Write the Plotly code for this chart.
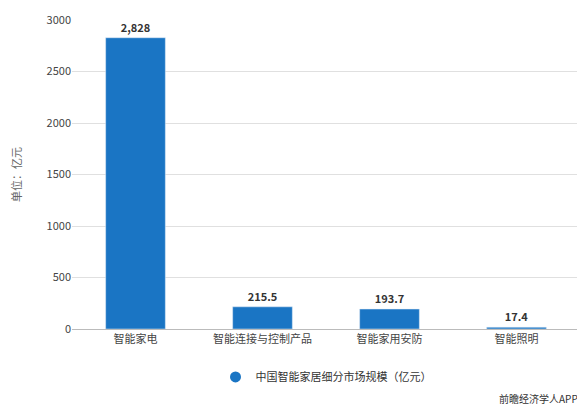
import plotly.graph_objects as go

categories = ["智能家电", "智能连接与控制产品", "智能家用安防", "智能照明"]
values = [2828, 215.5, 193.7, 17.4]
labels = ["<b>2,828</b>", "<b>215.5</b>", "<b>193.7</b>", "<b>17.4</b>"]
series_name = "中国智能家居细分市场规模（亿元）"

fig = go.Figure()
fig.add_trace(go.Bar(
    x=categories, y=values, text=labels,
    textposition="outside", marker_color="#1a75c4",
    textfont=dict(size=11, color="#333", family="Noto Sans CJK SC"),
    cliponaxis=False, showlegend=False,
))
fig.add_trace(go.Scatter(
    x=[None], y=[None], mode="markers", name=series_name,
    marker=dict(symbol="circle", size=11, color="#1a75c4"), showlegend=True,
))
fig.update_layout(
    width=585, height=412,
    margin=dict(l=64, r=13, t=12, b=91, autoexpand=False),
    plot_bgcolor="white", paper_bgcolor="white",
    font=dict(family="Noto Sans CJK SC", size=11, color="#444"),
    bargap=0.53,
    yaxis=dict(range=[0, 3000], dtick=500, showgrid=True, gridcolor="#e0e0e0",
               zeroline=False, showline=False, ticks="",
               title=dict(text="单位：亿元", font=dict(size=11, color="#666"), standoff=30)),
    xaxis=dict(showline=True, linecolor="#bbb", ticks=""),
    legend=dict(orientation="h", x=0.5, xanchor="center", y=-0.155, yanchor="middle",
                font=dict(size=11, color="#333")),
    annotations=[dict(text="前瞻经济学人APP", xref="paper", yref="paper",
                      x=1.0, y=-0.225, xanchor="right", yanchor="middle", showarrow=False,
                      font=dict(size=10, color="#333"))],
)
fig.write_html("out.html")
